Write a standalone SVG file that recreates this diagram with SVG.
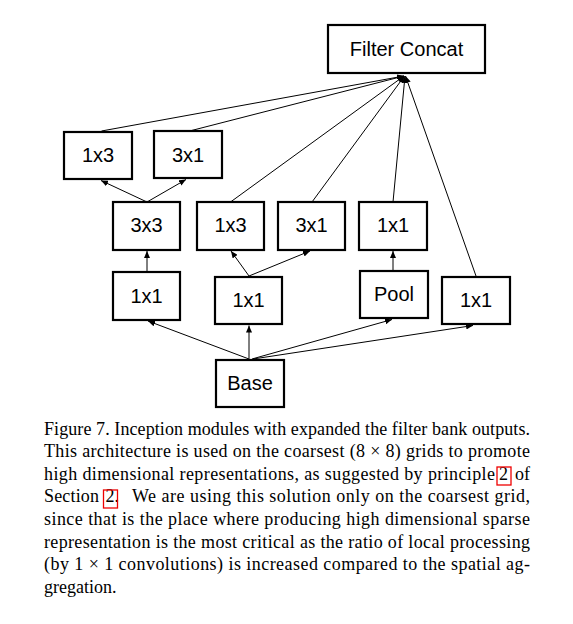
<svg xmlns="http://www.w3.org/2000/svg" width="573" height="624" viewBox="0 0 573 624">
<style>
.box{fill:#fff;stroke:#000;stroke-width:2.2}
.lbl{font-family:"Liberation Sans",Arial,sans-serif;font-size:20px;text-anchor:middle;fill:#000}
.cn{stroke:#000;stroke-width:1;fill:none;marker-end:url(#ah)}
.cap{font-family:"Liberation Serif","Times New Roman",serif;font-size:18px;fill:#000}
.ref{fill:none;stroke:#e00;stroke-width:1.3}
</style>
<defs>
<marker id="ah" markerUnits="userSpaceOnUse" markerWidth="8" markerHeight="6" refX="7" refY="3" orient="auto">
<path d="M0,0 L7,3 L0,6 z" fill="#000"/>
</marker>
</defs>
<rect width="573" height="624" fill="#fff"/>
<g id="connectors">
<line class="cn" x1="101.5" y1="131" x2="404" y2="76"/>
<line class="cn" x1="191.5" y1="130.5" x2="404" y2="76"/>
<line class="cn" x1="230.5" y1="202" x2="404" y2="76"/>
<line class="cn" x1="312" y1="202" x2="404.5" y2="76"/>
<line class="cn" x1="393" y1="202" x2="405" y2="76"/>
<line class="cn" x1="476" y1="276" x2="405.5" y2="76"/>
<line class="cn" x1="147" y1="202" x2="101" y2="180.5"/>
<line class="cn" x1="147" y1="202" x2="186" y2="179.5"/>
<line class="cn" x1="147" y1="272" x2="147" y2="251"/>
<line class="cn" x1="249" y1="276" x2="231" y2="251"/>
<line class="cn" x1="249" y1="276" x2="310" y2="251"/>
<line class="cn" x1="393" y1="271" x2="393" y2="251"/>
<line class="cn" x1="249" y1="359" x2="148" y2="321"/>
<line class="cn" x1="249" y1="359" x2="249" y2="325.5"/>
<line class="cn" x1="252" y1="359" x2="392" y2="319.5"/>
<line class="cn" x1="253" y1="359" x2="473" y2="325.5"/>
</g>
<g id="filter_concat"><rect class="box" x="328" y="25" width="157" height="48"/><text class="lbl" x="406.5" y="55.5">Filter Concat</text></g>
<g id="top_1x3"><rect class="box" x="64" y="132" width="68" height="47"/><text class="lbl" x="98" y="162">1x3</text></g>
<g id="top_3x1"><rect class="box" x="154" y="131" width="68" height="47"/><text class="lbl" x="188" y="161.5">3x1</text></g>
<g id="mid_3x3"><rect class="box" x="113" y="202" width="67" height="48"/><text class="lbl" x="146.5" y="232">3x3</text></g>
<g id="mid_1x3"><rect class="box" x="197" y="202" width="67" height="48"/><text class="lbl" x="230.5" y="232">1x3</text></g>
<g id="mid_3x1"><rect class="box" x="278" y="202" width="67" height="48"/><text class="lbl" x="311.5" y="232">3x1</text></g>
<g id="mid_1x1"><rect class="box" x="359" y="202" width="68" height="48"/><text class="lbl" x="393" y="232">1x1</text></g>
<g id="low_1x1_a"><rect class="box" x="113" y="272" width="67" height="48"/><text class="lbl" x="146.5" y="302.5">1x1</text></g>
<g id="low_1x1_b"><rect class="box" x="215" y="277" width="67" height="47"/><text class="lbl" x="248.5" y="307">1x1</text></g>
<g id="pool"><rect class="box" x="360" y="271" width="68" height="47"/><text class="lbl" x="394" y="300.5">Pool</text></g>
<g id="low_1x1_c"><rect class="box" x="442" y="277" width="68" height="47"/><text class="lbl" x="476" y="306.5">1x1</text></g>
<g id="base"><rect class="box" x="216" y="360" width="68" height="47"/><text class="lbl" x="250" y="389.5">Base</text></g>
<g id="caption">
<text class="cap" x="44" y="434.5" textLength="486" lengthAdjust="spacing">Figure 7. Inception modules with expanded the filter bank outputs.</text>
<text class="cap" x="44" y="457.1" textLength="486" lengthAdjust="spacing">This architecture is used on the coarsest (8 × 8) grids to promote</text>
<text class="cap" x="44" y="479.7" textLength="451" lengthAdjust="spacing">high dimensional representations, as suggested by principle</text>
<text class="cap" x="499" y="479.7">2</text>
<text class="cap" x="530" y="479.7" text-anchor="end">of</text>
<rect class="ref" x="497" y="467" width="14" height="18"/>
<text class="cap" x="44" y="502.3" textLength="55" lengthAdjust="spacing">Section</text>
<text class="cap" x="105.5" y="502.3">2.</text>
<rect class="ref" x="103.5" y="490" width="14" height="18"/>
<text class="cap" x="132" y="502.3" textLength="398" lengthAdjust="spacing">We are using this solution only on the coarsest grid,</text>
<text class="cap" x="44" y="524.9" textLength="486" lengthAdjust="spacing">since that is the place where producing high dimensional sparse</text>
<text class="cap" x="44" y="547.5" textLength="486" lengthAdjust="spacing">representation is the most critical as the ratio of local processing</text>
<text class="cap" x="44" y="570.1" textLength="486" lengthAdjust="spacing">(by 1 × 1 convolutions) is increased compared to the spatial ag-</text>
<text class="cap" x="44" y="592.7">gregation.</text>
</g>
</svg>
